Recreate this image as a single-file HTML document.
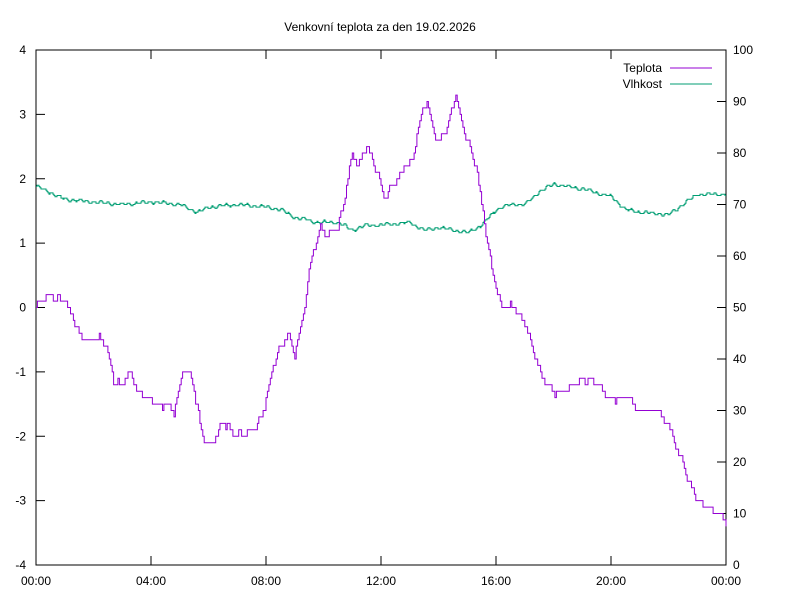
<!DOCTYPE html>
<html><head><meta charset="utf-8"><style>
html,body{margin:0;padding:0;background:#fff;}
svg{display:block;font-family:"Liberation Sans",sans-serif;font-size:12px;}
</style></head><body>
<svg id="s" width="800" height="600" xmlns="http://www.w3.org/2000/svg">
<rect width="800" height="600" fill="#fff"/>
<text x="380" y="31" text-anchor="middle">Venkovní teplota za den 19.02.2026</text>
<rect x="36" y="50" width="690" height="515" fill="none" stroke="#000" stroke-width="1"/>
<g id="ticks" stroke="#000" stroke-width="1"></g>
<g id="labels"></g>
<text x="662" y="72" text-anchor="end">Teplota</text>
<line x1="670" y1="68" x2="712" y2="68" stroke="#9400d3"/>
<text x="662" y="88" text-anchor="end">Vlhkost</text>
<line x1="670" y1="84" x2="712" y2="84" stroke="#009e73"/>
<polyline id="hum" fill="none" stroke="#009e73" stroke-width="1"/>
<polyline id="temp" fill="none" stroke="#9400d3" stroke-width="1"/>
</svg>
<script>
var NS="http://www.w3.org/2000/svg";
function X(t){return 36+t*28.75;}
function YT(v){return 307.5-v*64.375;}
function YH(h){return 565-h*5.15;}
var tk=document.getElementById('ticks'),lb=document.getElementById('labels');
function ln(a,b,c,d){var l=document.createElementNS(NS,'line');l.setAttribute('x1',a);l.setAttribute('y1',b);l.setAttribute('x2',c);l.setAttribute('y2',d);tk.appendChild(l);}
function tx(x,y,s,a){var t=document.createElementNS(NS,'text');t.setAttribute('x',x);t.setAttribute('y',y);t.setAttribute('text-anchor',a);t.textContent=s;lb.appendChild(t);}
for(var v=-4;v<=4;v++){var y=YT(v);ln(36,y,45,y);tx(26,y+4,String(v),'end');}
for(var h=0;h<=100;h+=10){var y=YH(h);ln(717,y,726,y);tx(733,y+4,String(h),'start');}
for(var t=0;t<=24;t+=4){var x=X(t);ln(x,565,x,556);ln(x,50,x,59);tx(x,585,(t==24?'00':(t<10?'0'+t:t))+':00','middle');}
var T=[[0,0],[0.1,0.1],[0.5,0.2],[1.0,0.1],[1.2,-0.1],[1.5,-0.4],[1.8,-0.5],[2.3,-0.5],[2.5,-0.7],[2.7,-1.1],[3.0,-1.2],[3.3,-1.0],[3.5,-1.3],[4.0,-1.4],[4.3,-1.6],[4.5,-1.5],[4.8,-1.6],[5.1,-1.0],[5.4,-1.1],[5.8,-2.0],[6.0,-2.1],[6.3,-2.0],[6.5,-1.8],[6.8,-1.9],[7.2,-2.0],[7.6,-1.9],[7.9,-1.6],[8.2,-1.0],[8.5,-0.6],[8.8,-0.4],[9.0,-0.7],[9.3,-0.1],[9.6,0.8],[9.9,1.3],[10.1,1.1],[10.5,1.2],[10.8,1.9],[11.0,2.4],[11.2,2.2],[11.5,2.5],[11.9,2.1],[12.1,1.7],[12.5,1.9],[12.8,2.2],[13.1,2.3],[13.4,3.0],[13.6,3.2],[13.8,2.8],[14.0,2.6],[14.3,2.8],[14.6,3.3],[14.8,2.9],[15.3,2.2],[15.6,1.3],[15.9,0.5],[16.2,0.0],[16.6,0.0],[17.0,-0.2],[17.3,-0.7],[17.6,-1.1],[18.0,-1.3],[18.5,-1.3],[19.0,-1.1],[19.5,-1.2],[20.0,-1.4],[20.5,-1.4],[21.0,-1.6],[21.5,-1.6],[22.0,-1.8],[22.3,-2.2],[22.6,-2.6],[23.0,-3.0],[23.3,-3.1],[23.6,-3.2],[24.0,-3.3]];
var H=[[0,73.5],[1,71],[2,70.5],[3,70],[4,70.5],[5,70],[5.6,68.5],[6,69.5],[7,70],[8,69.5],[8.5,69],[9,67.5],[9.8,66.5],[10.5,66.5],[11,65],[11.5,66],[12,66],[13,66.5],[13.5,65],[14,65.5],[15,64.5],[15.5,66],[16,69],[16.5,70],[17,70],[17.5,72.5],[18,74],[19,73],[20,71.5],[20.5,69],[21,68.5],[22,68],[22.5,70],[23,72],[24,72]];
function interp(d,t){for(var i=1;i<d.length;i++){if(t<=d[i][0]){var a=d[i-1],b=d[i];return a[1]+(b[1]-a[1])*(t-a[0])/(b[0]-a[0]);}}return d[d.length-1][1];}
function build(d,fy,q,id,n,amp){var p=[],prev=null;for(var i=0;i<=n;i++){var t=24*i/n;var v=interp(d,t)+Math.sin(i*0.9)*q*amp+Math.sin(i*0.31)*q*amp*0.7;v=Math.round(v/q)*q;var x=X(t).toFixed(1),y=fy(v).toFixed(1);if(prev!==null)p.push(x+','+prev);p.push(x+','+y);prev=y;}document.getElementById(id).setAttribute('points',p.join(' '));}
build(T,YT,0.1,'temp',480,0.35);
build(H,YH,0.25,'hum',690,0.9);
</script>
</body></html>
